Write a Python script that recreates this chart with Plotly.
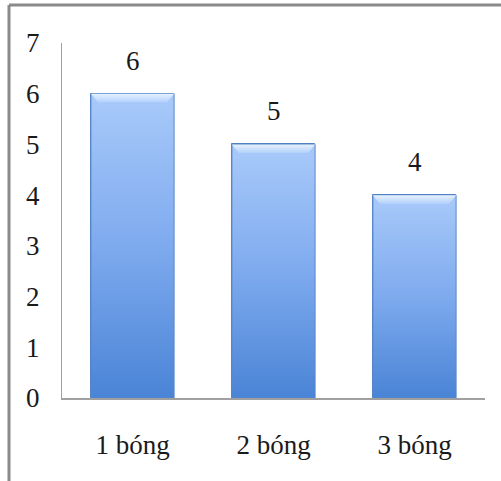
import plotly.graph_objects as go

# Data
categories = ["1 bóng", "2 bóng", "3 bóng"]
values = [6, 5, 4]
y_ticks = [0, 1, 2, 3, 4, 5, 6, 7]

FONT = "Liberation Serif"
BAR_W = 0.59
x_pos = list(range(len(categories)))

fig = go.Figure()

# Base bars
fig.add_trace(go.Bar(
    x=x_pos, y=values, width=BAR_W,
    marker=dict(color="#6d9fe6", line=dict(color="#4f7fc4", width=1)),
    hoverinfo="x+y", showlegend=False,
))

# Vertical gradient shading and top bevel highlight for each bar
for xi, v in zip(x_pos, values):
    h = BAR_W / 2
    fig.add_trace(go.Scatter(
        x=[xi - h, xi + h, xi + h, xi - h, xi - h],
        y=[0, 0, v, v, 0],
        mode="lines", fill="toself",
        line=dict(color="#5a88c8", width=1),
        fillgradient=dict(
            type="vertical",
            colorscale=[[0, "#4a84d6"], [0.5, "#7eaaee"], [1, "#a9cafa"]],
        ),
        hoverinfo="skip", showlegend=False,
    ))
    bev = 0.17
    inset = 0.05
    fig.add_trace(go.Scatter(
        x=[xi - h, xi + h, xi + h - inset, xi - h + inset, xi - h],
        y=[v, v, v - bev, v - bev, v],
        mode="lines", fill="toself",
        line=dict(width=0),
        fillgradient=dict(
            type="vertical",
            colorscale=[[0, "rgba(180,210,252,0.9)"], [1, "rgba(235,244,255,0.95)"]],
        ),
        hoverinfo="skip", showlegend=False,
    ))

# Value labels above bars
for xi, v in zip(x_pos, values):
    fig.add_annotation(
        x=xi, y=v, text=str(v), showarrow=False,
        yanchor="bottom", yshift=16,
        font=dict(family=FONT, size=27, color="#1a1a1a"),
    )

# Outer frame lines (left and top)
fig.add_shape(type="line", xref="paper", yref="paper",
              x0=-0.1253, x1=1.04, y0=1.107, y1=1.107,
              line=dict(color="#8a8a8a", width=3))
fig.add_shape(type="line", xref="paper", yref="paper",
              x0=-0.1253, x1=-0.1253, y0=-0.24, y1=1.107,
              line=dict(color="#8a8a8a", width=3))

fig.update_layout(
    width=501, height=481,
    margin=dict(l=62, r=16, t=43, b=83),
    paper_bgcolor="white", plot_bgcolor="white",
    font=dict(family=FONT, size=27, color="#1a1a1a"),
    bargap=0,
    xaxis=dict(
        range=[-0.5, 2.5], tickvals=x_pos, ticktext=categories,
        showgrid=False, zeroline=False,
        showline=True, linecolor="#a0a0a0", linewidth=2,
        ticks="", ticklabelstandoff=22,
        fixedrange=True,
    ),
    yaxis=dict(
        range=[0, 7], tickvals=y_ticks,
        showgrid=False, zeroline=False,
        showline=True, linecolor="#a0a0a0", linewidth=1,
        ticks="", ticklabelstandoff=16,
        fixedrange=True,
    ),
)

fig.write_html("out.html")
